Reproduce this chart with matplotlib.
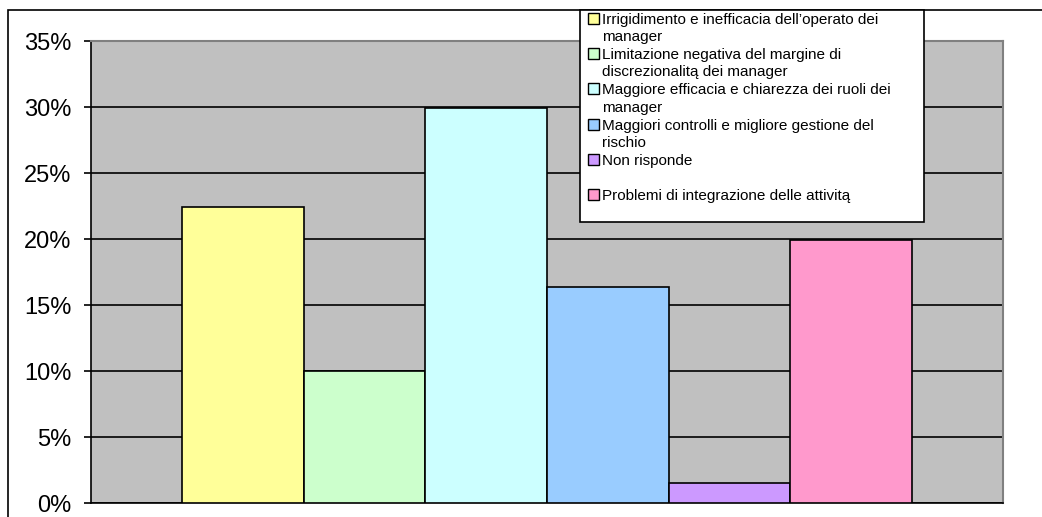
import matplotlib
matplotlib.use("Agg")
import matplotlib.pyplot as plt
from matplotlib.patches import Rectangle
from matplotlib.ticker import PercentFormatter

categories = [
    "Irrigidimento e inefficacia dell\u2019operato dei\nmanager",
    "Limitazione negativa del margine di\ndiscrezionalit\u0105 dei manager",
    "Maggiore efficacia e chiarezza dei ruoli dei\nmanager",
    "Maggiori controlli e migliore gestione del\nrischio",
    "Non risponde",
    "Problemi di integrazione delle attivit\u0105",
]
values = [22.4, 10.0, 29.9, 16.4, 1.5, 19.9]
colors = ["#FFFF99", "#CCFFCC", "#CCFFFF", "#99CCFF", "#CC99FF", "#FF99CC"]
yticks = [0, 5, 10, 15, 20, 25, 30, 35]

plt.rcParams['font.family'] = ['Liberation Sans', 'DejaVu Sans']

W, H = 1042, 517
fig = plt.figure(figsize=(W / 100, H / 100), dpi=100)
fig.patch.set_facecolor("white")

def fx(px):
    return px / W

def fy(py):
    return 1 - py / H

# plot area in pixels
x0, x1, y0, y1 = 91, 1003, 41, 503
ax = fig.add_axes([fx(x0), fy(y1), (x1 - x0) / W, (y1 - y0) / H])
ax.set_facecolor("#C0C0C0")

pos = list(range(len(values)))
ax.bar(pos, values, width=1.0, color=colors, edgecolor="black", linewidth=1.2, zorder=3)
ax.set_xlim(-1.25, len(values) - 1 + 1.25)
ax.set_ylim(0, 35)
ax.set_yticks(yticks)
ax.yaxis.set_major_formatter(PercentFormatter(decimals=0))
ax.set_xticks([])
ax.grid(axis="y", color="black", linewidth=1.2, zorder=1)
ax.tick_params(axis="y", direction="out", length=5, width=1.2, pad=9, labelsize=17)
for s in ["left", "bottom"]:
    ax.spines[s].set_color("black")
    ax.spines[s].set_linewidth(1.2)
for s in ["top", "right"]:
    ax.spines[s].set_color("#808080")
    ax.spines[s].set_linewidth(1.5)

# outer chart frame
fig.patches.append(Rectangle((fx(8), -0.1), 1.2, fy(10) + 0.1, transform=fig.transFigure,
                             fill=False, edgecolor="black", linewidth=1.2, clip_on=False))

# legend (handles aligned with first text line, as in the source chart)
lx0, lx1, ly0, ly1 = 580, 924, 10, 222
fig.patches.append(Rectangle((fx(lx0), fy(ly1)), (lx1 - lx0) / W, (ly1 - ly0) / H,
                             transform=fig.transFigure, facecolor="white",
                             edgecolor="black", linewidth=1.2, zorder=5))
entry_step = 35.2
line_step = 17.2
for i, (lab, c) in enumerate(zip(categories, colors)):
    yc = 18.5 + entry_step * i
    fig.patches.append(Rectangle((fx(588), fy(yc + 5.5)), 11 / W, 11 / H,
                                 transform=fig.transFigure, facecolor=c,
                                 edgecolor="black", linewidth=1.0, zorder=6))
    for j, line in enumerate(lab.split("\n")):
        fig.text(fx(602), fy(yc + line_step * j), line, fontsize=11,
                 ha="left", va="center_baseline", zorder=7)

fig.savefig("out.png", dpi=100)
